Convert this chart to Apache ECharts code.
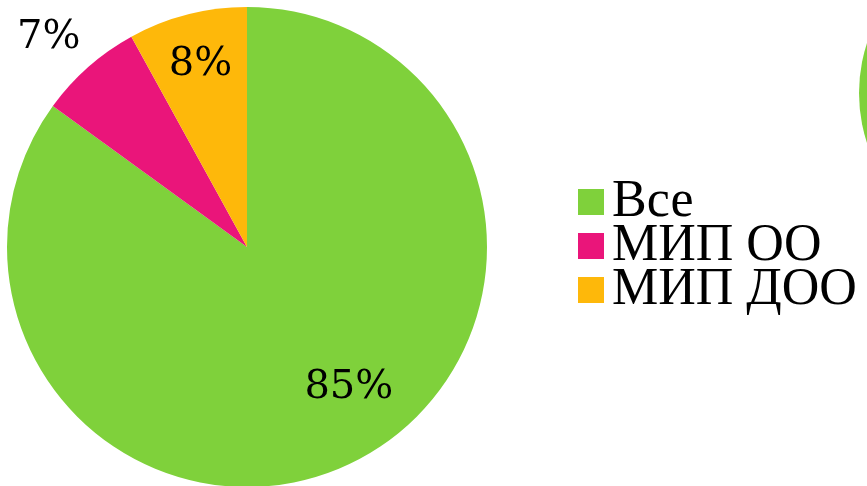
<!DOCTYPE html>
<html>
<head>
<meta charset="utf-8">
<script src="https://cdn.jsdelivr.net/npm/echarts@6/dist/echarts.min.js"></script>
<style>
html,body{margin:0;padding:0;background:#fff;}
#c{width:867px;height:486px;}
</style>
</head>
<body>
<div id="c"></div>
<script>
const categories = ['Все', 'МИП ОО', 'МИП ДОО'];
const values = [85, 7, 8];
const colors = ['#7FD13B', '#EA157A', '#FEB80A'];
const neighbourPieValues = [100];

const labelOffsets = [[46, 31], [-117, -117], [-16, -63]];

const chart = echarts.init(document.getElementById('c'));
chart.setOption({
  animation: false,
  legend: {
    orient: 'vertical',
    left: 573,
    top: 171,
    data: categories,
    icon: 'rect',
    itemWidth: 26,
    itemHeight: 26,
    itemGap: -8,
    selectedMode: false,
    textStyle: {
      fontFamily: 'Liberation Serif',
      fontSize: 52,
      color: '#000',
      padding: [0, 0, 0, 3]
    }
  },
  series: [
    {
      type: 'pie',
      center: [247, 247],
      radius: 240,
      startAngle: 90,
      clockwise: true,
      silent: true,
      itemStyle: { borderWidth: 0 },
      labelLine: { show: false },
      label: {
        show: true,
        position: 'inside',
        formatter: '{c}%',
        fontFamily: 'DejaVu Serif',
        fontSize: 40,
        color: '#000'
      },
      data: categories.map((n, i) => ({
        name: n,
        value: values[i],
        itemStyle: { color: colors[i] },
        label: { offset: labelOffsets[i] }
      }))
    },
    {
      type: 'pie',
      center: [1019, 93],
      radius: 160,
      silent: true,
      label: { show: false },
      labelLine: { show: false },
      itemStyle: { color: colors[0], borderWidth: 0 },
      data: neighbourPieValues.map(v => ({ name: 'other', value: v }))
    }
  ]
});
</script>
</body>
</html>
